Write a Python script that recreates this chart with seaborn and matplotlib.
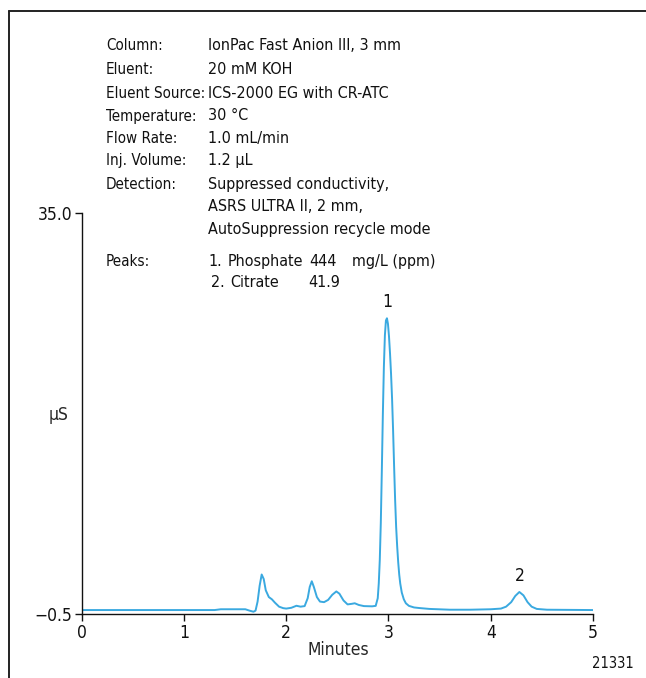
import matplotlib
matplotlib.use("Agg")
import matplotlib.pyplot as plt
from matplotlib.lines import Line2D
import seaborn as sns
import pandas as pd

# Chromatogram trace: retention time (min) and conductivity (µS)
time_min = [
    0.00, 0.50, 1.00, 1.30, 1.36, 1.60, 1.64, 1.68, 1.70, 1.72, 1.74, 1.76,
    1.78, 1.80, 1.83, 1.86, 1.89, 1.93, 1.97, 2.00, 2.05, 2.10, 2.14, 2.18,
    2.21, 2.23, 2.25, 2.27, 2.30, 2.33, 2.37, 2.41, 2.45, 2.49, 2.52, 2.56,
    2.60, 2.64, 2.67, 2.71, 2.76, 2.84, 2.875, 2.895, 2.905, 2.915, 2.925,
    2.935, 2.945, 2.955, 2.965, 2.975, 2.985, 2.995, 3.005, 3.015, 3.025,
    3.035, 3.045, 3.055, 3.065, 3.075, 3.085, 3.095, 3.105, 3.115, 3.13,
    3.15, 3.17, 3.20, 3.25, 3.30, 3.40, 3.60, 3.80, 4.00, 4.10, 4.15, 4.20,
    4.24, 4.28, 4.32, 4.36, 4.40, 4.45, 4.55, 5.00,
]
signal_us = [
    -0.15, -0.15, -0.15, -0.15, -0.08, -0.08, -0.20, -0.30, -0.20, 0.60, 2.00, 3.00,
    2.60, 1.60, 1.00, 0.80, 0.50, 0.15, 0.02, -0.02, 0.05, 0.23, 0.15, 0.20,
    0.90, 1.90, 2.40, 1.90, 1.00, 0.60, 0.55, 0.75, 1.20, 1.50, 1.30, 0.70,
    0.35, 0.40, 0.45, 0.30, 0.20, 0.18, 0.22, 0.90, 2.20, 4.30, 7.60,
    12.20, 17.20, 21.40, 24.20, 25.50, 25.70, 25.20, 24.10, 22.60, 20.80,
    18.60, 15.80, 12.60, 9.60, 7.20, 5.50, 4.10, 3.00, 2.20, 1.40,
    0.80, 0.45, 0.22, 0.08, 0.03, -0.05, -0.12, -0.12, -0.08, -0.02, 0.15, 0.55,
    1.10, 1.45, 1.15, 0.55, 0.15, -0.05, -0.12, -0.15,
]

# Peak numbers and their apex positions
peak_labels = ["1", "2"]
peak_times = [2.985, 4.28]
peak_heights = [25.7, 1.45]

x_ticks = [0, 1, 2, 3, 4, 5]
y_ticks = [-0.5, 35.0]
y_tick_labels = ["\u22120.5", "35.0"]

condition_names = ["Column:", "Eluent:", "Eluent Source:", "Temperature:",
                   "Flow Rate:", "Inj. Volume:", "Detection:"]
condition_values = ["IonPac Fast Anion III, 3 mm", "20 mM KOH",
                    "ICS-2000 EG with CR-ATC", "30 \u00b0C", "1.0 mL/min",
                    "1.2 \u03bcL", "Suppressed conductivity,",
                    "ASRS ULTRA II, 2 mm,", "AutoSuppression recycle mode"]
analyte_numbers = ["1.", "2."]
analyte_names = ["Phosphate", "Citrate"]
analyte_amounts = ["444", "41.9"]
amount_unit = "mg/L (ppm)"

sns.set_style("ticks")
plt.rcParams["font.family"] = ["DejaVu Sans"]
plt.rcParams["font.stretch"] = "condensed"
plt.rcParams["axes.unicode_minus"] = True

W, H = 646, 678
fig = plt.figure(figsize=(W / 100, H / 100), dpi=100)
ax = fig.add_axes([81.7 / W, 1 - 614 / H, (593 - 81.7) / W, (614 - 213.3) / H])

df = pd.DataFrame({"Minutes": time_min, "uS": signal_us})
sns.lineplot(data=df, x="Minutes", y="uS", ax=ax, color="#3aa9e0",
             linewidth=1.4, estimator=None, sort=False)

ax.set_xlim(0, 5)
ax.set_ylim(-0.5, 35.0)
ax.set_xticks(x_ticks)
ax.set_yticks(y_ticks)
ax.set_yticklabels(y_tick_labels)
for side in ("top", "right"):
    ax.spines[side].set_visible(False)
for side in ("left", "bottom"):
    ax.spines[side].set_linewidth(1.0)
    ax.spines[side].set_color("#111111")
ax.tick_params(direction="out", length=5, width=1.0, labelsize=12.5,
               colors="#111111", pad=2)

ax.set_xlabel("Minutes", fontsize=12.5)
ax.xaxis.set_label_coords(0.501, -0.068)
ax.set_ylabel("\u03bcS", fontsize=12.5, rotation=0, ha="center", va="center")
ax.yaxis.set_label_coords(-0.046, 0.496)

for lab, t, h in zip(peak_labels, peak_times, peak_heights):
    ax.annotate(lab, xy=(t, h), xytext=(0, 5), textcoords="offset points",
                ha="center", va="bottom", fontsize=12.5, color="#111111")

def px_text(x, y, s, size=11.5, **kw):
    fig.text(x / W, 1 - y / H, s, ha="left", va="center", fontsize=size,
             color="#111111", **kw)

row_y = [46, 69.5, 93, 116, 138.5, 161, 184, 207, 229.5]
for i, name in enumerate(condition_names):
    px_text(106, row_y[i], name, size=10.9)
for i, val in enumerate(condition_values):
    px_text(208, row_y[i], val)

px_text(106, 261, "Peaks:", size=10.9)
peak_rows = [261, 283]
num_x = [208, 211]
name_x = [228, 230]
amount_x = [309, 308]
for i in range(2):
    px_text(num_x[i], peak_rows[i], analyte_numbers[i])
    px_text(name_x[i], peak_rows[i], analyte_names[i])
    px_text(amount_x[i], peak_rows[i], analyte_amounts[i])
px_text(352, 261, amount_unit)

fig.text(613 / W, 1 - 664 / H, "21331", ha="center", va="center",
         fontsize=10.5, color="#111111")

# Open frame along the left and top edges
frame_kw = dict(color="#222222", linewidth=1.4, transform=fig.transFigure)
fig.add_artist(Line2D([8.5 / W, 8.5 / W], [0, 1 - 11 / H], **frame_kw))
fig.add_artist(Line2D([8.5 / W, 1], [1 - 11 / H, 1 - 11 / H], **frame_kw))

fig.savefig("out.png", dpi=100, facecolor="white")
